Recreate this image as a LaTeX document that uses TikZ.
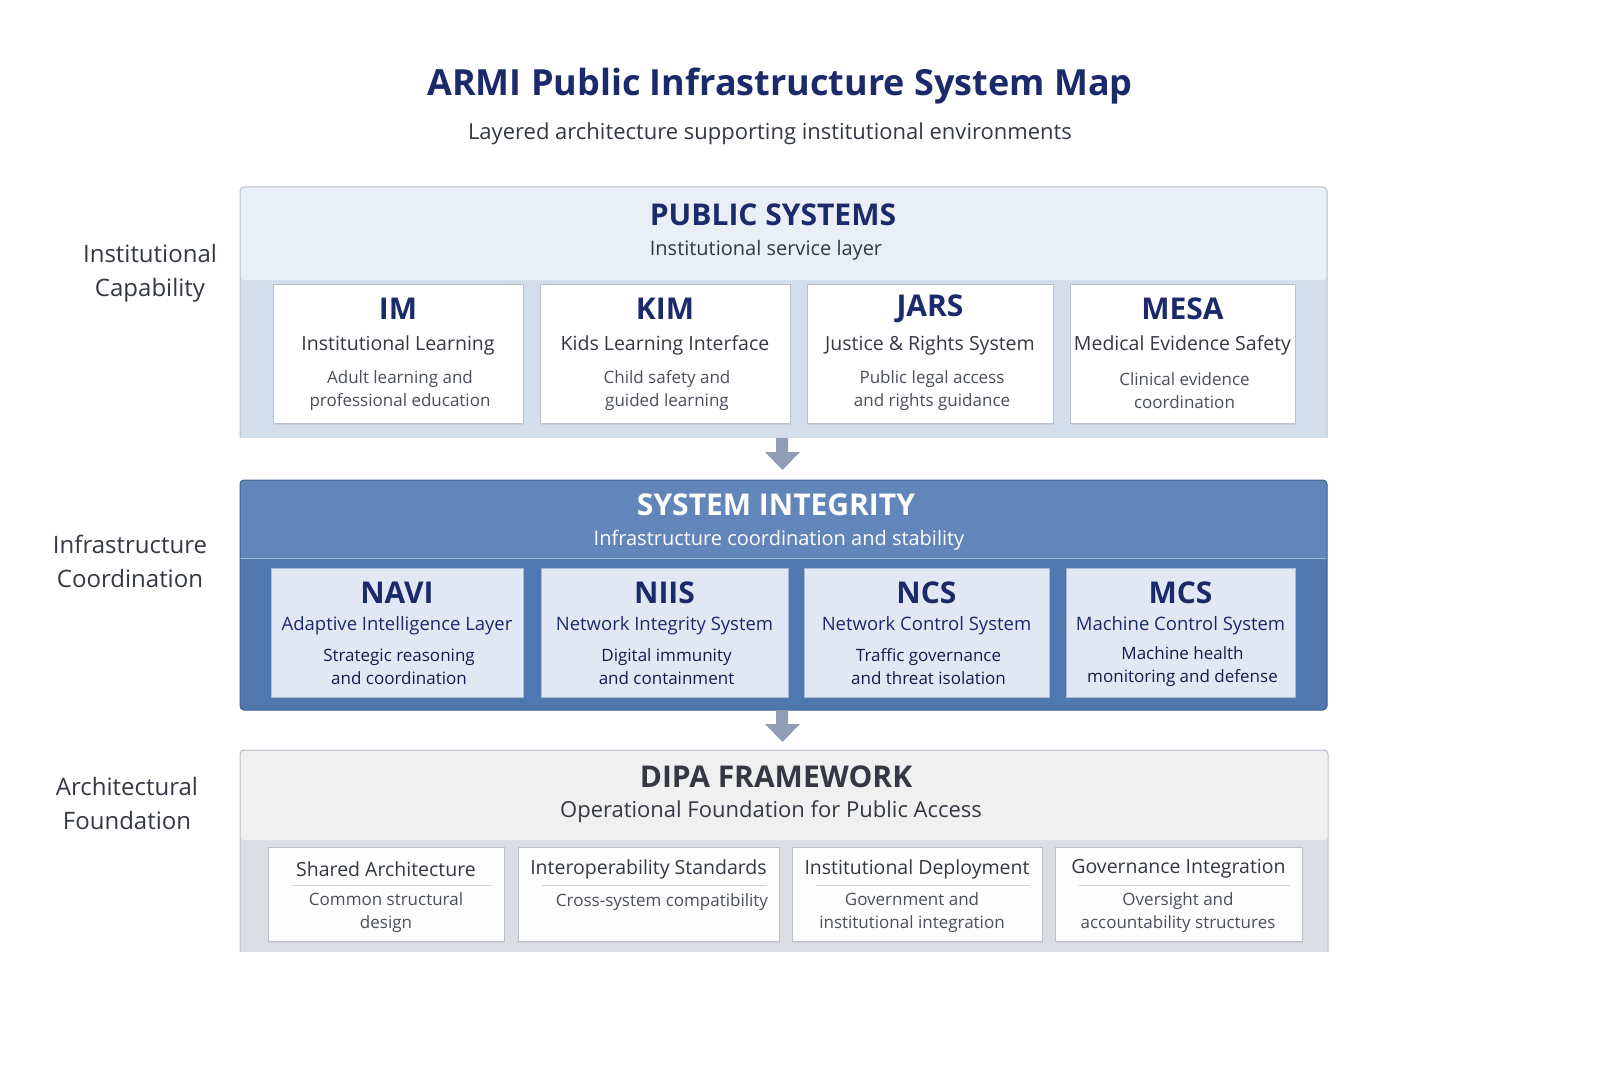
\documentclass[tikz,border=0pt]{standalone}
\usepackage{fontspec}
\setmainfont{Open Sans}
\usetikzlibrary{shadows}
\definecolor{navy}{HTML}{1B2A6B}
\definecolor{txt}{HTML}{333842}
\definecolor{gtxt}{HTML}{4A4F5A}
\definecolor{p1h}{HTML}{EAEFF7}
\definecolor{p1b}{HTML}{D3DEEC}
\definecolor{p2h}{HTML}{6286BA}
\definecolor{p2b}{HTML}{5078B0}
\definecolor{p3h}{HTML}{F0F0F1}
\definecolor{p3b}{HTML}{DCDDE3}
\definecolor{bord}{HTML}{B8C0CC}
\definecolor{arr}{HTML}{8F9DB5}
\tikzset{x=1pt,y=-1pt,
 card/.style={draw=bord,line width=1pt,fill=white,drop shadow={opacity=0.15,shadow xshift=1pt,shadow yshift=-2pt}},
 card2/.style={card,fill=#1},
 acr/.style={font=\fontsize{30}{32}\selectfont\bfseries,text=navy,anchor=center},
 nm/.style={font=\fontsize{20}{22}\selectfont,text=#1,anchor=center},
 ds/.style={font=\fontsize{17}{23}\selectfont,text=gtxt,align=center,anchor=center},
 side/.style={font=\fontsize{24}{34}\selectfont,text=txt,align=center},
 blk/.style={fill=arr,draw=none}}
\begin{document}
\begin{tikzpicture}
\fill[white] (0,0) rectangle (1600,1067);
\node[font=\fontsize{36}{40}\selectfont\bfseries,text=navy] (title) at (780,86) {ARMI Public Infrastructure System Map};
\node[font=\fontsize{22}{24}\selectfont,text=txt] (sub) at (770,134) {Layered architecture supporting institutional environments};
% side labels
\node[side] (s1) at (150,273) {Institutional\\Capability};
\node[side] (s2) at (130,561) {Infrastructure\\Coordination};
\node[side] (s3) at (127,803) {Architectural\\Foundation};
% panel 1
\fill[p1b] (240,273) rectangle (1327,438);
\fill[p1h,rounded corners=4pt] (240,187) rectangle (1327,280);
\fill[p1h] (240,260) rectangle (1327,273);
\draw[bord,line width=1pt,rounded corners=4pt] (240,438) -- (240,187) -- (1327,187) -- (1327,438);
\node[font=\fontsize{30}{32}\selectfont\bfseries,text=navy] (h1) at (773,215) {PUBLIC SYSTEMS};
\node[nm=txt] (h1s) at (766,250) {Institutional service layer};
\foreach \a/\b/\ac/\n/\d/\nm in {273/523/IM/Institutional Learning/{Adult learning and\\professional education}/c11,
 540/790/KIM/Kids Learning Interface/{Child safety and\\guided learning}/c12,
 807/1053/JARS/Justice \& Rights System/{Public legal access\\and rights guidance}/c13,
 1070/1295/MESA/Medical Evidence Safety/{Clinical evidence\\coordination}/c14}{
 \node[card,minimum width=\b-\a,minimum height=139,inner sep=0] (\nm) at ({(\a+\b)/2},353.5) {};
 \node[acr] at ({(\a+\b)/2},309) {\ac};
 \node[nm=txt,font=\fontsize{19.5}{22}\selectfont] at ({(\a+\b)/2},345) {\n};
 \node[ds] at ({(\a+\b)/2+2},391) {\d};
}
% arrow 1
\fill[blk] (776,438) rectangle (788,452) (765,452) -- (800,452) -- (782.5,470) -- cycle;
% panel 2
\fill[p2b,rounded corners=4pt] (240,480) rectangle (1327,710);
\fill[p2h,rounded corners=4pt] (240,480) rectangle (1327,565);
\fill[p2h] (240,545) rectangle (1327,558);
\fill[p2b] (240,558) rectangle (1327,580);
\draw[white,opacity=0.5,line width=1pt] (240,558) -- (1327,558);
\draw[p2b!80!black,line width=1pt,rounded corners=4pt] (240,480) rectangle (1327,710);
\node[font=\fontsize{30}{32}\selectfont\bfseries,text=white] (h2) at (776,505) {SYSTEM INTEGRITY};
\node[nm=white] (h2s) at (779,540) {Infrastructure coordination and stability};
\foreach \a/\b/\ac/\n/\d/\nm in {271/523/NAVI/Adaptive Intelligence Layer/{Strategic reasoning\\and coordination}/c21,
 541/788/NIIS/Network Integrity System/{Digital immunity\\and containment}/c22,
 804/1049/NCS/Network Control System/{Traffic governance\\and threat isolation}/c23,
 1066/1295/MCS/Machine Control System/{Machine health\\monitoring and defense}/c24}{
 \node[card2=p1h!60!p1b,draw=p2b!50!white,minimum width=\b-\a,minimum height=129,inner sep=0] (\nm) at ({(\a+\b)/2},632.5) {};
 \node[acr] at ({(\a+\b)/2},593) {\ac};
 \node[nm=navy,font=\fontsize{18.5}{20}\selectfont] at ({(\a+\b)/2},626) {\n};
 \node[ds,text=navy!70!black] at ({(\a+\b)/2+2},667) {\d};
}
% arrow 2
\fill[blk] (776,710) rectangle (788,724) (765,724) -- (800,724) -- (782.5,742) -- cycle;
% panel 3
\fill[p3b] (240,832) rectangle (1328,952);
\fill[p3h,rounded corners=4pt] (240,750) rectangle (1328,840);
\fill[p3h] (240,820) rectangle (1328,832);
\draw[bord,line width=1pt,rounded corners=4pt] (240,952) -- (240,750) -- (1328,750) -- (1328,952);
\node[font=\fontsize{30}{32}\selectfont\bfseries,text=txt] (h3) at (776,777) {DIPA FRAMEWORK};
\node[font=\fontsize{22}{24}\selectfont,text=txt] (h3s) at (771,812) {Operational Foundation for Public Access};
\foreach \a/\b/\n/\nm in {268/504/Shared Architecture/c31,
 518/779/Interoperability Standards/c32,
 792/1042/Institutional Deployment/c33,
 1055/1302/Governance Integration/c34}{
 \node[card,fill=white!85!p3h,minimum width=\b-\a,minimum height=94,inner sep=0] (\nm) at ({(\a+\b)/2},894) {};
 \node[nm=txt,font=\fontsize{19.5}{22}\selectfont] at ({(\a+\b)/2},869) {\n};
 \draw[bord!70!white,line width=0.8pt] (\a+24,885) -- (\b-12,885);
}
\node[ds] at (386,913) {Common structural\\design};
\node[ds] at (662,902) {Cross-system compatibility};
\node[ds] at (912,913) {Government and\\institutional integration};
\node[ds] at (1178,913) {Oversight and\\accountability structures};
\pgfresetboundingbox
\useasboundingbox (0,0) rectangle (1600,1067);
\end{tikzpicture}
\end{document}
